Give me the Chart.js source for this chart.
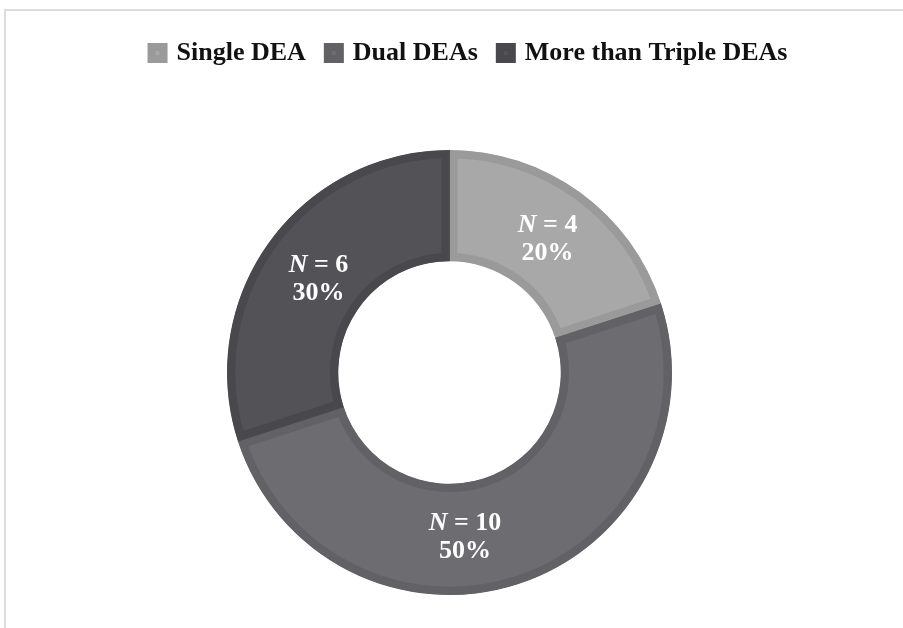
<!DOCTYPE html>
<html>
<head>
<meta charset="utf-8">
<script src="https://cdn.jsdelivr.net/npm/chart.js@4"></script>
<style>
  html, body { margin: 0; padding: 0; background: #fff; }
  #wrap { position: relative; width: 903px; height: 628px; overflow: hidden; }
  #frame { position: absolute; left: 4px; top: 9px; width: 910px; height: 640px;
           border-left: 2px solid #dcdcdc; border-top: 2px solid #dcdcdc; }
  canvas { position: absolute; left: 0; top: 0; }
</style>
</head>
<body>
<div id="wrap">
  <div id="frame"></div>
  <canvas id="chart" width="903" height="628"></canvas>
</div>
<script>
const categories = ['Single DEA', 'Dual DEAs', 'More than Triple DEAs'];
const counts = [4, 10, 6];
const percents = ['20%', '50%', '30%'];

const fills = ['#a8a8a8', '#6c6c71', '#525257'];
const edges = ['#9a9a9a', '#616166', '#48484d'];

// the bottom label sits a bit off the arc middle in the original
const labelShift = [[0, 2], [-36, 6], [4, 5]];

const serif = '"Liberation Serif", "Times New Roman", serif';

const legendSpace = {
  id: 'legendSpace',
  beforeInit(chart) {
    const fit = chart.legend.fit;
    chart.legend.fit = function () {
      fit.bind(chart.legend)();
      this.height += 74;
    };
  },
  afterLayout(chart) {
    chart.legend.left += 20;
    chart.legend.right += 20;
  }
};

const sliceLabels = {
  id: 'sliceLabels',
  afterDatasetsDraw(chart) {
    const ctx = chart.ctx;
    const meta = chart.getDatasetMeta(0);
    meta.data.forEach((arc, i) => {
      const p = arc.tooltipPosition();
      const x = p.x + labelShift[i][0];
      const y = p.y + labelShift[i][1];
      ctx.save();
      ctx.fillStyle = '#ffffff';
      ctx.textBaseline = 'middle';
      const italic = 'italic bold 26px ' + serif;
      const bold = 'bold 26px ' + serif;
      const rest = ' = ' + counts[i];
      ctx.font = italic;
      const wN = ctx.measureText('N').width;
      ctx.font = bold;
      const wR = ctx.measureText(rest).width;
      let sx = x - (wN + wR) / 2;
      ctx.textAlign = 'left';
      ctx.font = italic;
      ctx.fillText('N', sx, y - 14);
      ctx.font = bold;
      ctx.fillText(rest, sx + wN, y - 14);
      ctx.textAlign = 'center';
      ctx.fillText(percents[i], x, y + 14);
      ctx.restore();
    });
  }
};

new Chart(document.getElementById('chart'), {
  type: 'doughnut',
  data: {
    labels: categories,
    datasets: [{
      data: counts,
      backgroundColor: fills,
      borderColor: edges,
      borderWidth: 8,
      borderAlign: 'inner'
    }]
  },
  options: {
    responsive: false,
    animation: false,
    cutout: '50%',
    layout: { padding: { top: 18, bottom: 33, left: 0, right: 4 } },
    plugins: {
      legend: {
        position: 'top',
        labels: {
          color: '#111',
          boxWidth: 12,
          boxHeight: 12,
          padding: 22,
          font: { family: serif, size: 26, weight: 'bold' }
        }
      },
      tooltip: { enabled: false }
    }
  },
  plugins: [legendSpace, sliceLabels]
});
</script>
</body>
</html>
